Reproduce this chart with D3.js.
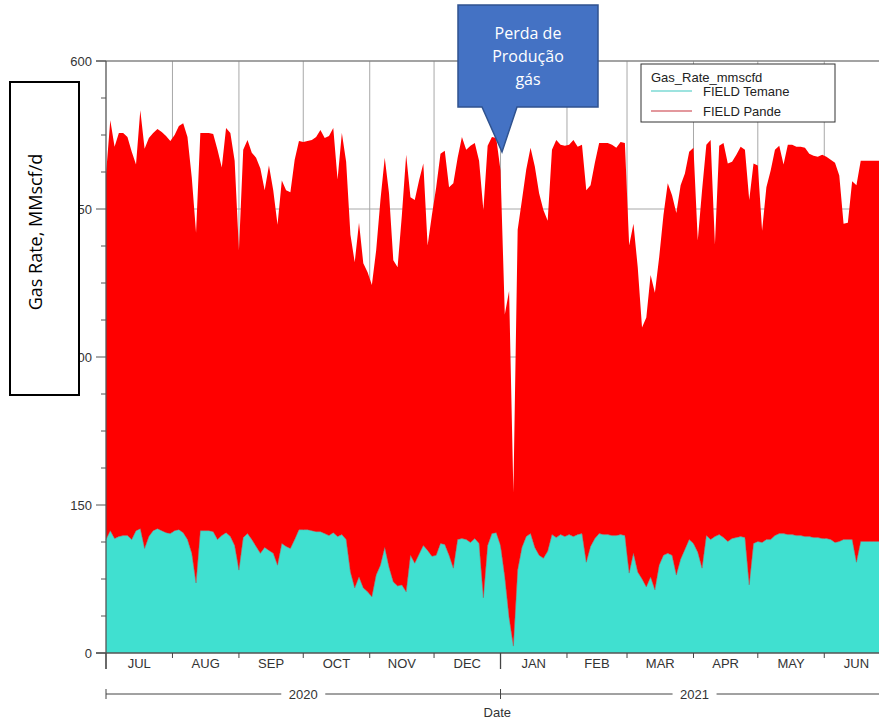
<!DOCTYPE html>
<html>
<head>
<meta charset="utf-8">
<script src="https://cdn.jsdelivr.net/npm/d3@7"></script>
<style>
  body { margin: 0; background: #fff; }
  svg { display: block; }
</style>
</head>
<body>
<div id="chart"></div>
<script>
// daily gas rate, one reading every 2 days from 1 Jul 2020
const startDate = '2020-07-01';
const stepDays = 2;
const months = ['JUL', 'AUG', 'SEP', 'OCT', 'NOV', 'DEC', 'JAN', 'FEB', 'MAR', 'APR', 'MAY', 'JUN'];
const years = ['2020', '2021'];
const yTicks = [0, 150, 300, 450, 600];
const seriesNames = ['FIELD Temane', 'FIELD Pande'];
const legendTitle = 'Gas_Rate_mmscfd';
const yTitle = 'Gas Rate, MMscf/d';
const calloutLines = ['Perda de', 'Produção', 'gás'];

const temane = [
  115, 124, 116, 118, 119, 119, 115, 124, 126, 106,
  118, 124, 126, 124, 122, 121, 124, 125, 122, 115,
  101, 71, 124, 124, 124, 123, 115, 119, 122, 118,
  109, 84, 117, 121, 115, 108, 101, 107, 104, 101,
  89, 111, 108, 106, 115, 125, 125, 125, 124, 123,
  123, 121, 119, 122, 118, 120, 115, 82, 66, 77,
  66, 62, 57, 79, 89, 107, 87, 72, 68, 69,
  62, 99, 91, 100, 109, 104, 98, 99, 111, 110,
  99, 86, 115, 116, 115, 112, 116, 111, 56, 109,
  121, 122, 109, 77, 36, 7, 84, 107, 118, 121,
  107, 99, 96, 103, 120, 117, 120, 118, 120, 118,
  120, 121, 92, 108, 116, 121, 120, 120, 119, 119,
  120, 119, 81, 101, 82, 75, 67, 77, 64, 89,
  99, 101, 99, 79, 95, 105, 115, 111, 102, 86,
  119, 115, 118, 120, 117, 113, 116, 117, 118, 117,
  69, 111, 113, 112, 115, 115, 119, 121, 121, 120,
  120, 119, 119, 118, 118, 117, 117, 116, 116, 115,
  112, 113, 115, 115, 115, 92, 113, 113, 113, 113,
  113, 113, 113
];

const pande = [
  370, 416, 397, 409, 408, 404, 393, 371, 424, 405,
  404, 403, 405, 404, 402, 398, 401, 409, 415, 408,
  381, 355, 403, 403, 403, 403, 395, 373, 410, 409,
  390, 324, 393, 399, 392, 394, 390, 362, 390, 368,
  345, 368, 361, 361, 385, 394, 393, 394, 396, 400,
  407, 401, 405, 410, 362, 407, 383, 342, 330, 359,
  329, 324, 316, 329, 370, 395, 379, 326, 323, 375,
  443, 363, 368, 379, 387, 309, 346, 373, 395, 399,
  373, 390, 387, 407, 395, 402, 401, 388, 393, 405,
  402, 400, 380, 266, 331, 156, 345, 352, 372, 391,
  386, 367, 353, 335, 390, 403, 395, 396, 395, 402,
  393, 394, 377, 366, 381, 396, 397, 397, 396, 393,
  398, 398, 332, 334, 309, 255, 273, 306, 301, 312,
  345, 375, 365, 367, 379, 381, 393, 401, 316, 383,
  396, 405, 296, 394, 400, 383, 382, 388, 395, 393,
  390, 385, 381, 316, 357, 374, 391, 393, 374, 395,
  395, 394, 394, 394, 388, 387, 386, 389, 387, 385,
  385, 371, 320, 321, 363, 382, 386, 386, 386, 386,
  386, 386, 386
];

const width = 879, height = 722;
const plotTop = 61, plotBottom = 653, plotLeft = 106;
const axisFont = '"Liberation Sans", Arial, sans-serif';
const boxFont = '"Open Sans", "Noto Sans", sans-serif';

const svg = d3.select('#chart').append('svg')
  .attr('width', width)
  .attr('height', height);

const t0 = d3.timeParse('%Y-%m-%d')(startDate);
const t1 = d3.timeYear.offset(t0, 1);

// plot runs past the right edge of the picture, like the original screenshot
const x = d3.scaleTime().domain([t0, t1]).range([plotLeft, 888.6]);
const y = d3.scaleLinear().domain([0, 600]).range([plotBottom, plotTop]);

const rows = temane.map((v, i) => ({
  date: d3.timeDay.offset(t0, i * stepDays),
  temane: v,
  pande: pande[i]
}));
const stacked = d3.stack().keys(['temane', 'pande'])(rows);

const monthStarts = d3.timeMonth.range(t0, t1);
const monthBounds = monthStarts.concat([t1]);

// grid
svg.append('g').selectAll('line')
  .data(monthStarts.slice(1))
  .join('line')
    .attr('x1', d => x(d)).attr('x2', d => x(d))
    .attr('y1', plotTop).attr('y2', plotBottom)
    .attr('stroke', '#a8a8a8').attr('stroke-width', 1);

svg.append('g').selectAll('line')
  .data(yTicks.slice(1, -1))
  .join('line')
    .attr('x1', plotLeft).attr('x2', width)
    .attr('y1', d => y(d)).attr('y2', d => y(d))
    .attr('stroke', '#a8a8a8').attr('stroke-width', 1);

// stacked areas
const colors = ['#40E0D0', '#FF0000'];
const area = d3.area()
  .x(d => x(d.data.date))
  .y0(d => y(d[0]))
  .y1(d => y(d[1]));

svg.append('g').selectAll('path')
  .data(stacked)
  .join('path')
    .attr('d', area)
    .attr('fill', (d, i) => colors[i]);

svg.append('path')
  .datum(stacked[0])
  .attr('d', d3.line().x(d => x(d.data.date)).y(d => y(d[1])))
  .attr('fill', 'none')
  .attr('stroke', '#8a5a5a')
  .attr('stroke-width', 0.7)
  .attr('stroke-opacity', 0.7);

// frame lines
svg.append('line')
  .attr('x1', 96).attr('x2', width)
  .attr('y1', plotTop).attr('y2', plotTop)
  .attr('stroke', '#858585').attr('stroke-width', 1.5);
svg.append('line')
  .attr('x1', plotLeft).attr('x2', plotLeft)
  .attr('y1', plotTop).attr('y2', 669)
  .attr('stroke', '#555').attr('stroke-width', 1.3);
svg.append('line')
  .attr('x1', 96).attr('x2', width)
  .attr('y1', plotBottom).attr('y2', plotBottom)
  .attr('stroke', '#555').attr('stroke-width', 1.3);

// y axis ticks and labels
const minor = d3.range(0, 600.1, 37.5).filter(v => !yTicks.includes(v));
svg.append('g').selectAll('line')
  .data(minor)
  .join('line')
    .attr('x1', 101).attr('x2', plotLeft)
    .attr('y1', d => y(d)).attr('y2', d => y(d))
    .attr('stroke', '#555');
svg.append('g').selectAll('line')
  .data(yTicks)
  .join('line')
    .attr('x1', 96).attr('x2', plotLeft)
    .attr('y1', d => y(d)).attr('y2', d => y(d))
    .attr('stroke', '#555');
svg.append('g').selectAll('text')
  .data(yTicks)
  .join('text')
    .attr('x', 92).attr('y', d => y(d) + 4.5)
    .attr('text-anchor', 'end')
    .style('font-family', axisFont).style('font-size', '13px')
    .attr('fill', '#333')
    .text(d => d);

// x axis: month ticks and labels
svg.append('g').selectAll('line')
  .data(monthStarts)
  .join('line')
    .attr('x1', d => x(d)).attr('x2', d => x(d))
    .attr('y1', plotBottom)
    .attr('y2', d => (d.getMonth() === 0 || +d === +t0) ? 669 : 658)
    .attr('stroke', '#444').attr('stroke-width', d => d.getMonth() === 0 ? 1.3 : 1);
svg.append('g').selectAll('text')
  .data(months)
  .join('text')
    .attr('x', (d, i) => (x(monthBounds[i]) + x(monthBounds[i + 1])) / 2)
    .attr('y', 668)
    .attr('text-anchor', 'middle')
    .style('font-family', axisFont).style('font-size', '13px')
    .attr('fill', '#333')
    .text(d => d);

// year band
const yearStarts = [t0, d3.timeYear.ceil(t0)];
const yearBounds = yearStarts.concat([t1]);
const yearY = 694;
svg.append('line')
  .attr('x1', x(t0)).attr('x2', width)
  .attr('y1', yearY).attr('y2', yearY)
  .attr('stroke', '#444');
svg.append('g').selectAll('line')
  .data(yearStarts)
  .join('line')
    .attr('x1', d => x(d)).attr('x2', d => x(d))
    .attr('y1', yearY - 5).attr('y2', yearY + 5)
    .attr('stroke', '#444');
const yearG = svg.append('g').selectAll('g')
  .data(years)
  .join('g')
    .attr('transform', (d, i) => `translate(${(x(yearBounds[i]) + x(yearBounds[i + 1])) / 2},${yearY})`);
yearG.append('rect')
  .attr('x', -22).attr('y', -8).attr('width', 44).attr('height', 16)
  .attr('fill', '#fff');
yearG.append('text')
  .attr('y', 4.5)
  .attr('text-anchor', 'middle')
  .style('font-family', axisFont).style('font-size', '13px')
  .attr('fill', '#333')
  .text(d => d);

svg.append('text')
  .attr('x', (x(t0) + x(t1)) / 2).attr('y', 717)
  .attr('text-anchor', 'middle')
  .style('font-family', axisFont).style('font-size', '13px')
  .attr('fill', '#333')
  .text('Date');

// legend
const lg = svg.append('g').attr('transform', 'translate(641,64)');
lg.append('rect')
  .attr('width', 194).attr('height', 58)
  .attr('fill', '#fff').attr('stroke', '#333').attr('stroke-width', 1);
lg.append('text')
  .attr('x', 10).attr('y', 18)
  .style('font-family', axisFont).style('font-size', '13px')
  .attr('fill', '#222')
  .text(legendTitle);
const legendLine = ['#3cc8bf', '#c8323c'];
seriesNames.forEach((name, i) => {
  const ly = 27 + i * 20;
  lg.append('line')
    .attr('x1', 10).attr('x2', 51)
    .attr('y1', ly).attr('y2', ly)
    .attr('stroke', legendLine[i]).attr('stroke-width', 1.2);
  lg.append('text')
    .attr('x', 62).attr('y', ly + 5)
    .style('font-family', axisFont).style('font-size', '13px')
    .attr('fill', '#222')
    .text(name);
});

// y title box (covers part of the tick labels, as in the original)
svg.append('rect')
  .attr('x', 10).attr('y', 82).attr('width', 69).attr('height', 313)
  .attr('fill', '#fff').attr('stroke', '#000').attr('stroke-width', 2);
svg.append('text')
  .attr('transform', 'translate(42,232) rotate(-90)')
  .attr('text-anchor', 'middle')
  .style('font-family', boxFont).style('font-size', '18px')
  .attr('fill', '#000')
  .text(yTitle);

// callout
const callout = 'M458,5 H598 V107 H517 L502,152 L482,107 H458 Z';
svg.append('path')
  .attr('d', callout)
  .attr('fill', '#4472C4')
  .attr('stroke', '#2F528F')
  .attr('stroke-width', 1.5);
svg.append('g').selectAll('text')
  .data(calloutLines)
  .join('text')
    .attr('x', 528)
    .attr('y', (d, i) => 39 + i * 23)
    .attr('text-anchor', 'middle')
    .style('font-family', boxFont).style('font-size', '16px')
    .attr('fill', '#fff')
    .text(d => d);
</script>
</body>
</html>
